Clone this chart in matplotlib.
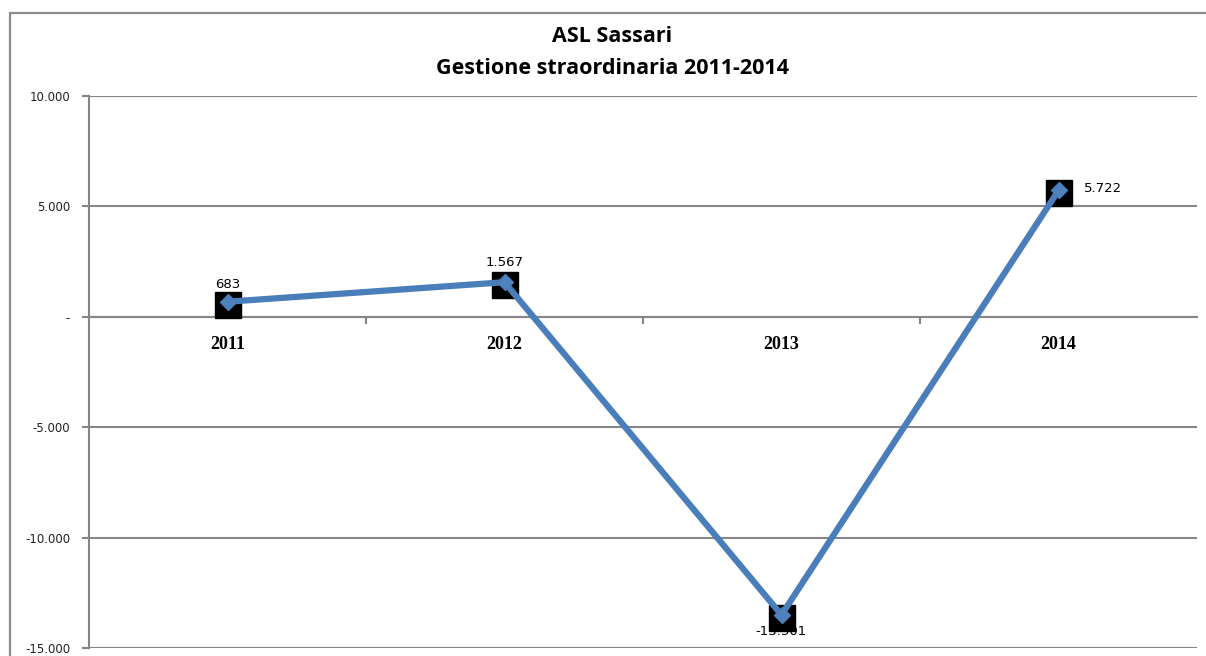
import matplotlib
matplotlib.use("Agg")
import matplotlib.pyplot as plt
from matplotlib.patches import Rectangle
from matplotlib.transforms import ScaledTranslation

# data
years = ["2011", "2012", "2013", "2014"]
values = [683, 1567, -13501, 5722]
value_labels = ["683", "1.567", "-13.501", "5.722"]
y_ticks = [-15000, -10000, -5000, 0, 5000, 10000]
y_tick_labels = ["-15.000", "-10.000", "-5.000", "-", "5.000", "10.000"]

W, H = 1206, 656
fig = plt.figure(figsize=(W / 100, H / 100), dpi=100)
fig.patch.set_facecolor("white")

# chart area border (Excel style), runs off the right/bottom of the image
fig.add_artist(Rectangle((9.5 / W, -0.1), 1.2, 1.1 - 12.5 / H, transform=fig.transFigure,
                         fill=False, edgecolor="#8c8c8c", linewidth=1.6))

# plot area in pixels
left, right, top, bottom = 89, 1197, 96, 648
ax = fig.add_axes([left / W, (H - bottom) / H, (right - left) / W, (bottom - top) / H])

grey = "#868686"
blue = "#4A7EBB"

x = list(range(len(years)))
# black squares sit a few pixels below the points in the original
shift = ax.transData + ScaledTranslation(0, -3 / 100, fig.dpi_scale_trans)
ax.plot(x, values, linestyle="none", marker="s", markersize=19, color="black",
        zorder=3, transform=shift)
ax.plot(x, values, color=blue, linewidth=4.5, marker="D", markersize=8,
        markerfacecolor="#4F81BD", markeredgecolor=blue, zorder=4, solid_capstyle="round")

ax.set_xlim(-0.5, len(years) - 0.5)
ax.set_ylim(-15000, 10000)

# y axis
ax.set_yticks(y_ticks)
ax.set_yticklabels(y_tick_labels, fontsize=8.5, family="DejaVu Sans", color="#222222")
ax.yaxis.grid(True, color=grey, linewidth=1.5)
ax.tick_params(axis="y", direction="out", length=5, width=1.5, color=grey, pad=8.5)

# x axis sits at zero
for s in ["top", "right"]:
    ax.spines[s].set_visible(False)
ax.spines["left"].set_color(grey)
ax.spines["left"].set_linewidth(1.5)
ax.spines["bottom"].set_position(("data", 0))
ax.spines["bottom"].set_color(grey)
ax.spines["bottom"].set_linewidth(1.5)

ax.set_xticks(x)
ax.set_xticklabels(years, fontsize=13, family="Liberation Serif", fontweight="bold")
ax.tick_params(axis="x", which="major", length=0, pad=14)
ax.set_xticks([0.5, 1.5, 2.5], minor=True)
ax.tick_params(axis="x", which="minor", direction="out", length=5, width=1.5, color=grey)
ax.set_axisbelow(True)

# data labels
offsets = [(0, 17), (0, 20), (0, -17), (25, 2)]
aligns = ["center", "center", "center", "left"]
for xi, v, lab, off, ha in zip(x, values, value_labels, offsets, aligns):
    ax.annotate(lab, (xi, v), xytext=(off[0] * 0.72, off[1] * 0.72), textcoords="offset points",
                ha=ha, va="center", fontsize=9.5, family="DejaVu Sans", color="black", zorder=5)

fig.text(612 / W, 1 - 37 / H, "ASL Sassari", ha="center", va="center",
         fontsize=15.5, fontweight="bold", family="Open Sans")
fig.text(612 / W, 1 - 68 / H, "Gestione straordinaria 2011-2014", ha="center", va="center",
         fontsize=15.5, fontweight="bold", family="Open Sans")

fig.savefig("out.png", dpi=100)
